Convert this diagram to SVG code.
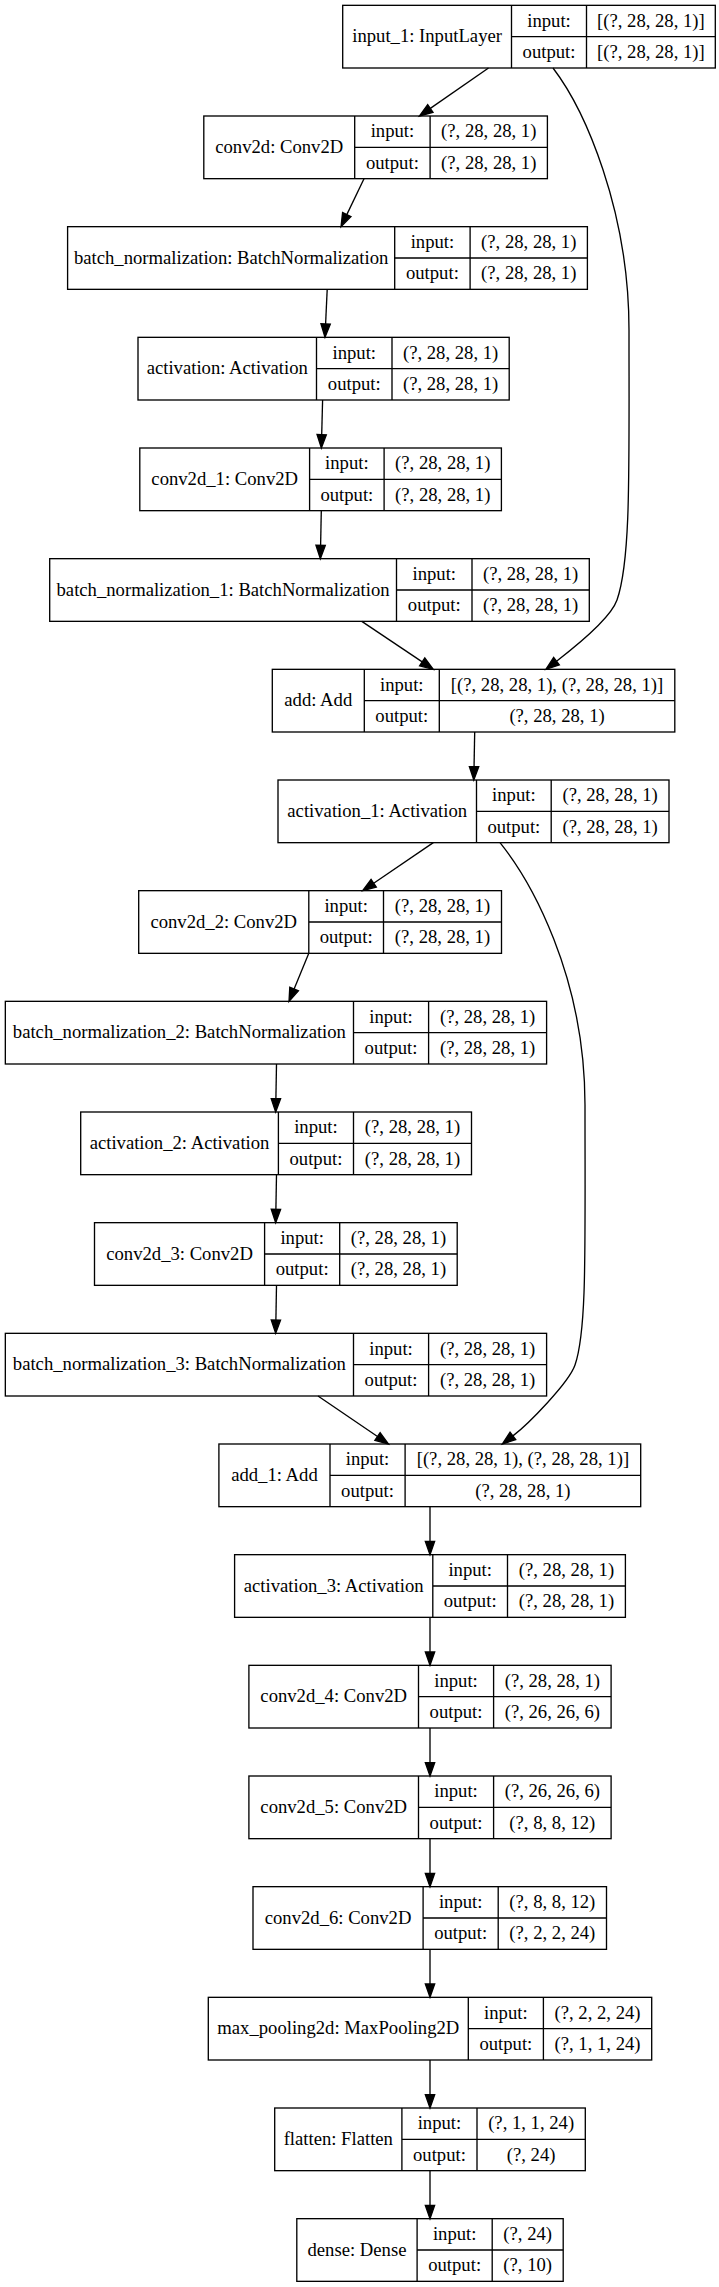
<svg xmlns="http://www.w3.org/2000/svg" width="719" height="2287" viewBox="0 0 719 2287">
<style>
.box{fill:none;stroke:#000;stroke-width:1.33}
.t{font-family:"Liberation Serif","Times New Roman",serif;font-size:18.67px;text-anchor:middle;fill:#000}
.e{fill:none;stroke:#000;stroke-width:1.33;marker-end:url(#arr)}
</style>
<defs>
<marker id="arr" markerUnits="userSpaceOnUse" markerWidth="14" markerHeight="10" viewBox="0 -5 14 10" refX="0" refY="0" orient="auto" overflow="visible">
<path d="M0,-4.67 L13.33,0 L0,4.67 Z" fill="#000" stroke="#000" stroke-width="1.33"/>
</marker>
</defs>
<rect width="719" height="2287" fill="#fff"/>

<g id="input_1" transform="translate(0,5.33)">
<rect class="box" x="342.7" y="0" width="372.6" height="62.67"/>
<path class="box" d="M511.5,0V62.67M586.5,0V62.67M511.5,31.33H715.3"/>
<text class="t" x="427.1" y="36.9">input_1: InputLayer</text>
<text class="t" x="549" y="21.3">input:</text>
<text class="t" x="650.9" y="21.3">[(?, 28, 28, 1)]</text>
<text class="t" x="549" y="52.6">output:</text>
<text class="t" x="650.9" y="52.6">[(?, 28, 28, 1)]</text>
</g>

<g id="conv2d" transform="translate(0,116)">
<rect class="box" x="203.8" y="0" width="343.6" height="62.67"/>
<path class="box" d="M354.7,0V62.67M430.1,0V62.67M354.7,31.33H547.4"/>
<text class="t" x="279.25" y="36.9">conv2d: Conv2D</text>
<text class="t" x="392.4" y="21.3">input:</text>
<text class="t" x="488.75" y="21.3">(?, 28, 28, 1)</text>
<text class="t" x="392.4" y="52.6">output:</text>
<text class="t" x="488.75" y="52.6">(?, 28, 28, 1)</text>
</g>

<g id="batch_normalization" transform="translate(0,226.67)">
<rect class="box" x="67.6" y="0" width="519.8" height="62.67"/>
<path class="box" d="M394.7,0V62.67M470.1,0V62.67M394.7,31.33H587.4"/>
<text class="t" x="231.15" y="36.9">batch_normalization: BatchNormalization</text>
<text class="t" x="432.4" y="21.3">input:</text>
<text class="t" x="528.75" y="21.3">(?, 28, 28, 1)</text>
<text class="t" x="432.4" y="52.6">output:</text>
<text class="t" x="528.75" y="52.6">(?, 28, 28, 1)</text>
</g>

<g id="activation" transform="translate(0,337.33)">
<rect class="box" x="138" y="0" width="371.2" height="62.67"/>
<path class="box" d="M316.5,0V62.67M392,0V62.67M316.5,31.33H509.2"/>
<text class="t" x="227.25" y="36.9">activation: Activation</text>
<text class="t" x="354.25" y="21.3">input:</text>
<text class="t" x="450.6" y="21.3">(?, 28, 28, 1)</text>
<text class="t" x="354.25" y="52.6">output:</text>
<text class="t" x="450.6" y="52.6">(?, 28, 28, 1)</text>
</g>

<g id="conv2d_1" transform="translate(0,448)">
<rect class="box" x="139.8" y="0" width="361.6" height="62.67"/>
<path class="box" d="M309.6,0V62.67M384.1,0V62.67M309.6,31.33H501.4"/>
<text class="t" x="224.7" y="36.9">conv2d_1: Conv2D</text>
<text class="t" x="346.85" y="21.3">input:</text>
<text class="t" x="442.75" y="21.3">(?, 28, 28, 1)</text>
<text class="t" x="346.85" y="52.6">output:</text>
<text class="t" x="442.75" y="52.6">(?, 28, 28, 1)</text>
</g>

<g id="batch_normalization_1" transform="translate(0,558.67)">
<rect class="box" x="49.7" y="0" width="539.6" height="62.67"/>
<path class="box" d="M396.5,0V62.67M472,0V62.67M396.5,31.33H589.3"/>
<text class="t" x="223.1" y="36.9">batch_normalization_1: BatchNormalization</text>
<text class="t" x="434.25" y="21.3">input:</text>
<text class="t" x="530.65" y="21.3">(?, 28, 28, 1)</text>
<text class="t" x="434.25" y="52.6">output:</text>
<text class="t" x="530.65" y="52.6">(?, 28, 28, 1)</text>
</g>

<g id="add" transform="translate(0,669.33)">
<rect class="box" x="272.3" y="0" width="402.5" height="62.67"/>
<path class="box" d="M364.3,0V62.67M439.3,0V62.67M364.3,31.33H674.8"/>
<text class="t" x="318.3" y="36.9">add: Add</text>
<text class="t" x="401.8" y="21.3">input:</text>
<text class="t" x="557.05" y="21.3">[(?, 28, 28, 1), (?, 28, 28, 1)]</text>
<text class="t" x="401.8" y="52.6">output:</text>
<text class="t" x="557.05" y="52.6">(?, 28, 28, 1)</text>
</g>

<g id="activation_1" transform="translate(0,780)">
<rect class="box" x="278" y="0" width="391" height="62.67"/>
<path class="box" d="M476.5,0V62.67M551.2,0V62.67M476.5,31.33H669"/>
<text class="t" x="377.25" y="36.9">activation_1: Activation</text>
<text class="t" x="513.85" y="21.3">input:</text>
<text class="t" x="610.1" y="21.3">(?, 28, 28, 1)</text>
<text class="t" x="513.85" y="52.6">output:</text>
<text class="t" x="610.1" y="52.6">(?, 28, 28, 1)</text>
</g>

<g id="conv2d_2" transform="translate(0,890.67)">
<rect class="box" x="138.7" y="0" width="362.8" height="62.67"/>
<path class="box" d="M308.8,0V62.67M383.5,0V62.67M308.8,31.33H501.5"/>
<text class="t" x="223.75" y="36.9">conv2d_2: Conv2D</text>
<text class="t" x="346.15" y="21.3">input:</text>
<text class="t" x="442.5" y="21.3">(?, 28, 28, 1)</text>
<text class="t" x="346.15" y="52.6">output:</text>
<text class="t" x="442.5" y="52.6">(?, 28, 28, 1)</text>
</g>

<g id="batch_normalization_2" transform="translate(0,1001.33)">
<rect class="box" x="5.33" y="0" width="541.27" height="62.67"/>
<path class="box" d="M353.5,0V62.67M428.6,0V62.67M353.5,31.33H546.6"/>
<text class="t" x="179.4" y="36.9">batch_normalization_2: BatchNormalization</text>
<text class="t" x="391.05" y="21.3">input:</text>
<text class="t" x="487.6" y="21.3">(?, 28, 28, 1)</text>
<text class="t" x="391.05" y="52.6">output:</text>
<text class="t" x="487.6" y="52.6">(?, 28, 28, 1)</text>
</g>

<g id="activation_2" transform="translate(0,1112)">
<rect class="box" x="80.7" y="0" width="390.8" height="62.67"/>
<path class="box" d="M278.4,0V62.67M353.5,0V62.67M278.4,31.33H471.5"/>
<text class="t" x="179.55" y="36.9">activation_2: Activation</text>
<text class="t" x="315.95" y="21.3">input:</text>
<text class="t" x="412.5" y="21.3">(?, 28, 28, 1)</text>
<text class="t" x="315.95" y="52.6">output:</text>
<text class="t" x="412.5" y="52.6">(?, 28, 28, 1)</text>
</g>

<g id="conv2d_3" transform="translate(0,1222.67)">
<rect class="box" x="94.5" y="0" width="362.7" height="62.67"/>
<path class="box" d="M264.6,0V62.67M339.7,0V62.67M264.6,31.33H457.2"/>
<text class="t" x="179.55" y="36.9">conv2d_3: Conv2D</text>
<text class="t" x="302.15" y="21.3">input:</text>
<text class="t" x="398.45" y="21.3">(?, 28, 28, 1)</text>
<text class="t" x="302.15" y="52.6">output:</text>
<text class="t" x="398.45" y="52.6">(?, 28, 28, 1)</text>
</g>

<g id="batch_normalization_3" transform="translate(0,1333.33)">
<rect class="box" x="5.33" y="0" width="541.27" height="62.67"/>
<path class="box" d="M353.5,0V62.67M428.6,0V62.67M353.5,31.33H546.6"/>
<text class="t" x="179.4" y="36.9">batch_normalization_3: BatchNormalization</text>
<text class="t" x="391.05" y="21.3">input:</text>
<text class="t" x="487.6" y="21.3">(?, 28, 28, 1)</text>
<text class="t" x="391.05" y="52.6">output:</text>
<text class="t" x="487.6" y="52.6">(?, 28, 28, 1)</text>
</g>

<g id="add_1" transform="translate(0,1444)">
<rect class="box" x="218.9" y="0" width="421.8" height="62.67"/>
<path class="box" d="M330,0V62.67M405.1,0V62.67M330,31.33H640.7"/>
<text class="t" x="274.45" y="36.9">add_1: Add</text>
<text class="t" x="367.55" y="21.3">input:</text>
<text class="t" x="522.9" y="21.3">[(?, 28, 28, 1), (?, 28, 28, 1)]</text>
<text class="t" x="367.55" y="52.6">output:</text>
<text class="t" x="522.9" y="52.6">(?, 28, 28, 1)</text>
</g>

<g id="activation_3" transform="translate(0,1554.67)">
<rect class="box" x="234.6" y="0" width="390.8" height="62.67"/>
<path class="box" d="M432.8,0V62.67M507.5,0V62.67M432.8,31.33H625.4"/>
<text class="t" x="333.7" y="36.9">activation_3: Activation</text>
<text class="t" x="470.15" y="21.3">input:</text>
<text class="t" x="566.45" y="21.3">(?, 28, 28, 1)</text>
<text class="t" x="470.15" y="52.6">output:</text>
<text class="t" x="566.45" y="52.6">(?, 28, 28, 1)</text>
</g>

<g id="conv2d_4" transform="translate(0,1665.33)">
<rect class="box" x="248.9" y="0" width="362.2" height="62.67"/>
<path class="box" d="M418.5,0V62.67M493.6,0V62.67M418.5,31.33H611.1"/>
<text class="t" x="333.7" y="36.9">conv2d_4: Conv2D</text>
<text class="t" x="456.05" y="21.3">input:</text>
<text class="t" x="552.35" y="21.3">(?, 28, 28, 1)</text>
<text class="t" x="456.05" y="52.6">output:</text>
<text class="t" x="552.35" y="52.6">(?, 26, 26, 6)</text>
</g>

<g id="conv2d_5" transform="translate(0,1776)">
<rect class="box" x="248.9" y="0" width="362.2" height="62.67"/>
<path class="box" d="M418.5,0V62.67M493.6,0V62.67M418.5,31.33H611.1"/>
<text class="t" x="333.7" y="36.9">conv2d_5: Conv2D</text>
<text class="t" x="456.05" y="21.3">input:</text>
<text class="t" x="552.35" y="21.3">(?, 26, 26, 6)</text>
<text class="t" x="456.05" y="52.6">output:</text>
<text class="t" x="552.35" y="52.6">(?, 8, 8, 12)</text>
</g>

<g id="conv2d_6" transform="translate(0,1886.67)">
<rect class="box" x="253" y="0" width="353.5" height="62.67"/>
<path class="box" d="M423.1,0V62.67M498.2,0V62.67M423.1,31.33H606.5"/>
<text class="t" x="338.05" y="36.9">conv2d_6: Conv2D</text>
<text class="t" x="460.65" y="21.3">input:</text>
<text class="t" x="552.35" y="21.3">(?, 8, 8, 12)</text>
<text class="t" x="460.65" y="52.6">output:</text>
<text class="t" x="552.35" y="52.6">(?, 2, 2, 24)</text>
</g>

<g id="max_pooling2d" transform="translate(0,1997.33)">
<rect class="box" x="208.3" y="0" width="443.4" height="62.67"/>
<path class="box" d="M468.3,0V62.67M543.4,0V62.67M468.3,31.33H651.7"/>
<text class="t" x="338.3" y="36.9">max_pooling2d: MaxPooling2D</text>
<text class="t" x="505.85" y="21.3">input:</text>
<text class="t" x="597.55" y="21.3">(?, 2, 2, 24)</text>
<text class="t" x="505.85" y="52.6">output:</text>
<text class="t" x="597.55" y="52.6">(?, 1, 1, 24)</text>
</g>

<g id="flatten" transform="translate(0,2108)">
<rect class="box" x="274.7" y="0" width="310.6" height="62.67"/>
<path class="box" d="M401.9,0V62.67M477,0V62.67M401.9,31.33H585.3"/>
<text class="t" x="338.3" y="36.9">flatten: Flatten</text>
<text class="t" x="439.45" y="21.3">input:</text>
<text class="t" x="531.15" y="21.3">(?, 1, 1, 24)</text>
<text class="t" x="439.45" y="52.6">output:</text>
<text class="t" x="531.15" y="52.6">(?, 24)</text>
</g>

<g id="dense" transform="translate(0,2218.67)">
<rect class="box" x="296.8" y="0" width="266.4" height="62.67"/>
<path class="box" d="M417.1,0V62.67M492.2,0V62.67M417.1,31.33H563.2"/>
<text class="t" x="356.95" y="36.9">dense: Dense</text>
<text class="t" x="454.65" y="21.3">input:</text>
<text class="t" x="527.7" y="21.3">(?, 24)</text>
<text class="t" x="454.65" y="52.6">output:</text>
<text class="t" x="527.7" y="52.6">(?, 10)</text>
</g>

<g id="connectors">
<path class="e" d="M488.5,68 L430.35,108.4"/>
<path class="e" d="M553,68 C585,110 629,210 629,330 C629,470 631,560 617,600 C610,620 572.3,649 556.5,661.2"/>
<path class="e" d="M364,178.67 L346.8,214.6"/>
<path class="e" d="M327.2,289.33 L325.6,324"/>
<path class="e" d="M322.6,400 L321.7,434.67"/>
<path class="e" d="M321.3,510.67 L320.6,545.33"/>
<path class="e" d="M361.8,621.33 L422.2,661.9"/>
<path class="e" d="M474.7,732 L474.05,766.67"/>
<path class="e" d="M433.3,842.67 L373.7,883.2"/>
<path class="e" d="M500,842.67 C530,880 585,975 585,1105 C585,1250 587,1330 575,1365 C569,1382.5 528.7,1423.7 512.9,1435.9"/>
<path class="e" d="M308.8,953.33 L294.1,989"/>
<path class="e" d="M276.5,1064 L275.9,1098.67"/>
<path class="e" d="M276.5,1174.67 L275.9,1209.33"/>
<path class="e" d="M276.5,1285.33 L275.9,1320"/>
<path class="e" d="M318,1396 L377.5,1436.5"/>
<path class="e" d="M430,1506.67 V1541.33"/>
<path class="e" d="M430,1617.33 V1652"/>
<path class="e" d="M430,1728 V1762.67"/>
<path class="e" d="M430,1838.67 V1873.33"/>
<path class="e" d="M430,1949.33 V1984"/>
<path class="e" d="M430,2060 V2094.67"/>
<path class="e" d="M430,2170.67 V2205.33"/>
</g>
</svg>
